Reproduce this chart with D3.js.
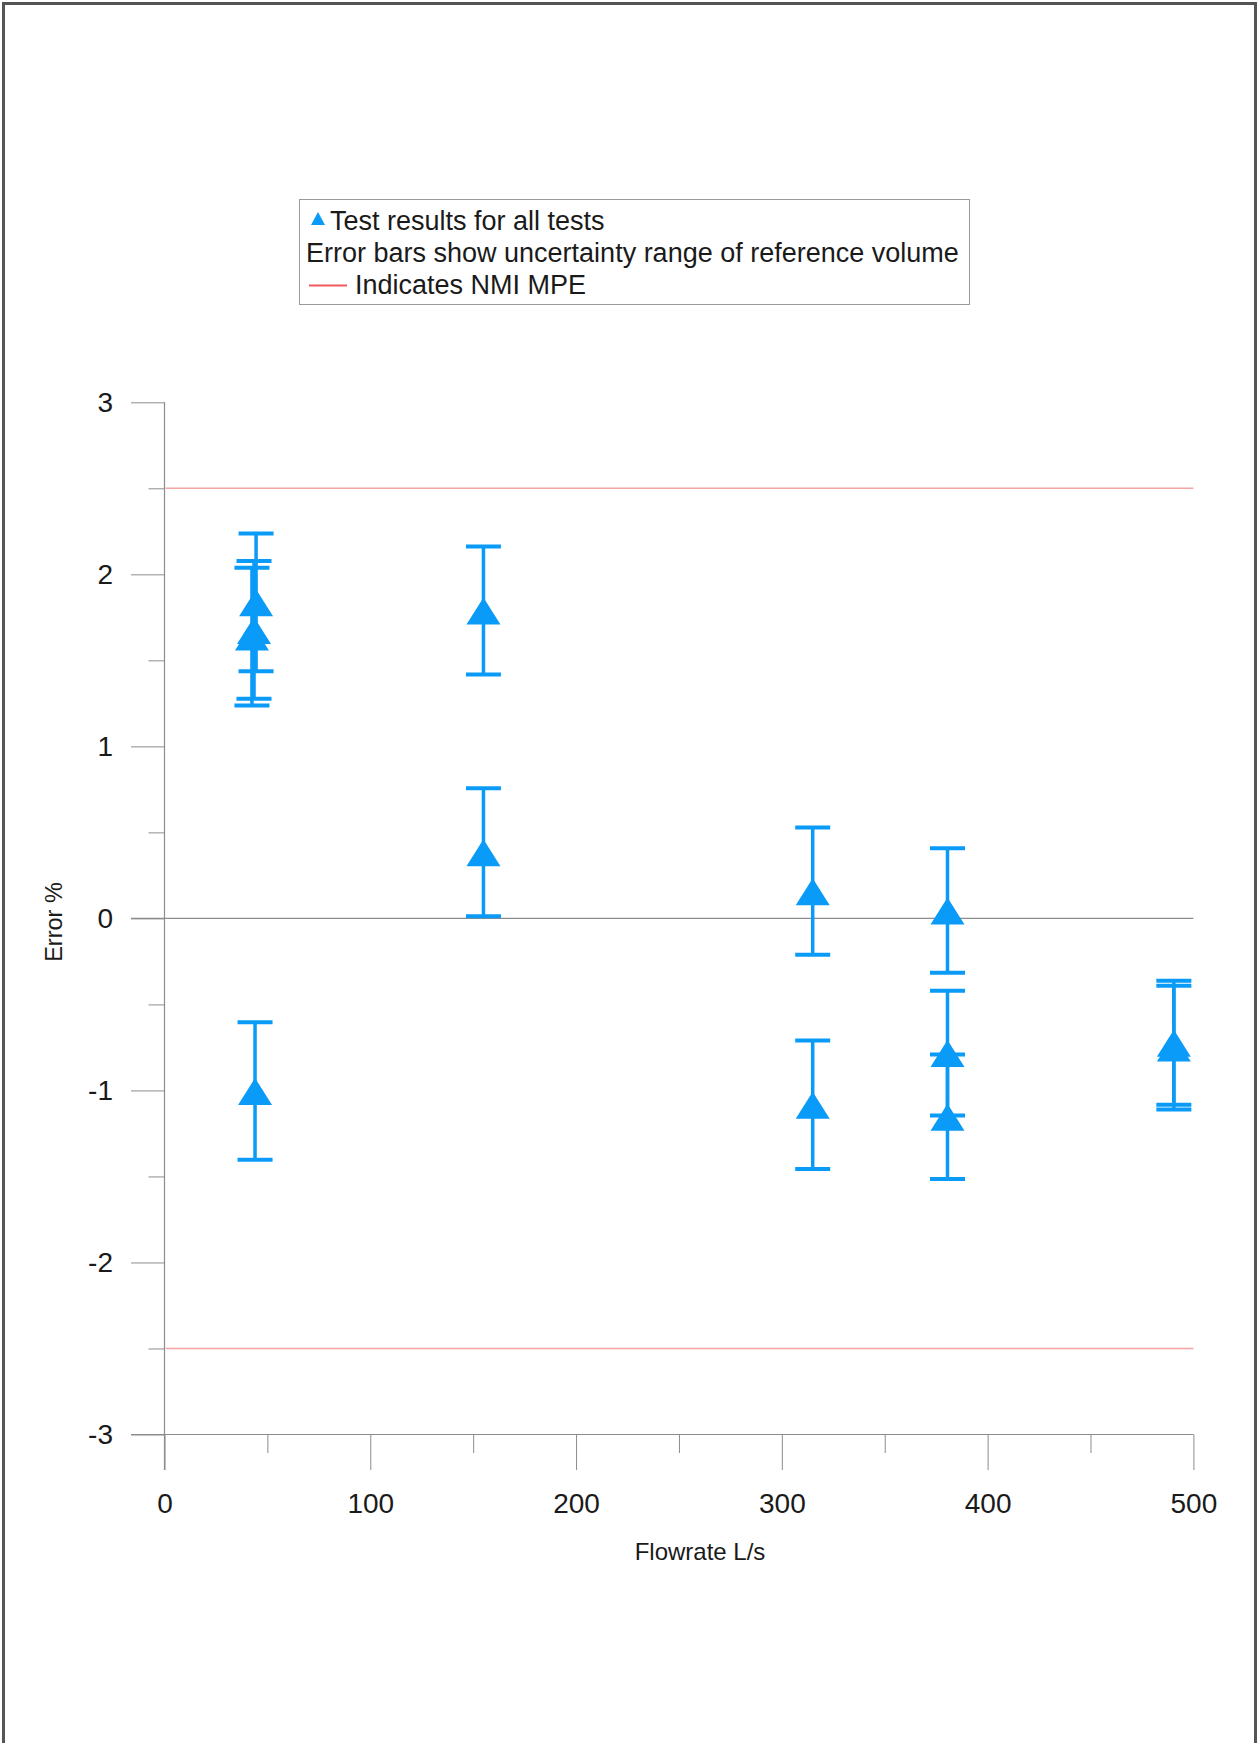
<!DOCTYPE html>
<html>
<head>
<meta charset="utf-8">
<script src="https://cdn.jsdelivr.net/npm/d3@7"></script>
<style>
  html, body { margin: 0; padding: 0; background: #fff; }
  svg { display: block; font-family: "Liberation Sans", Arial, sans-serif; }
</style>
</head>
<body>
<svg id="chart" width="1259" height="1743"></svg>
<script>
// ---------- data ----------
const flowrate    = [44.5, 43.5, 42.5, 44, 155, 155, 315, 315, 380.5, 380.5, 380.5, 490.5, 490.5];
const errorPct    = [1.837, 1.677, 1.638, -1.003, 1.79, 0.384, 0.158, -1.083, 0.046, -0.783, -1.153, -0.723, -0.751];
const uncertainty = [0.40, 0.40, 0.40, 0.40, 0.372, 0.372, 0.37, 0.373, 0.362, 0.362, 0.362, 0.36, 0.36];
const mpeLimits   = [2.5, -2.5];
const xTicks      = [0, 100, 200, 300, 400, 500];
const xMinorTicks = [50, 150, 250, 350, 450];
const yTicks      = [-3, -2, -1, 0, 1, 2, 3];
const yMinorTicks = [-2.5, -1.5, -0.5, 0.5, 1.5, 2.5];
const legendLines = ['Test results for all tests',
                     'Error bars show uncertainty range of reference volume',
                     'Indicates NMI MPE'];

const points = flowrate.map((f, i) => ({ x: f, y: errorPct[i], u: uncertainty[i] }));

// ---------- layout ----------
const svg = d3.select('#chart');
const blue = '#0a9af7';
const axisGrey = '#8c8c8c';

const x = d3.scaleLinear().domain([0, 500]).range([164.5, 1193.4]);
const y = d3.scaleLinear().domain([-3, 3]).range([1434.5, 402.3]);

// page frame (left, top, right)
svg.append('path')
  .attr('d', 'M3.5,1743 V3.5 H1255.5 V1743')
  .attr('fill', 'none')
  .attr('stroke', '#555')
  .attr('stroke-width', 3);

// ---------- axes ----------
const majorLen = 33.5, minorLen = 16;
const plain = d => String(d);   // hyphen minus, like the original

svg.append('g')
  .attr('transform', `translate(${x(0)},0)`)
  .call(d3.axisLeft(y).tickValues(yTicks).tickSize(majorLen).tickPadding(18).tickFormat(plain));
svg.append('g')
  .attr('transform', `translate(${x(0)},0)`)
  .call(d3.axisLeft(y).tickValues(yMinorTicks).tickSize(minorLen).tickFormat(''));

svg.append('g')
  .attr('transform', `translate(0,${y(-3)})`)
  .call(d3.axisBottom(x).tickValues(xTicks).tickSize(35.5).tickPadding(23).tickFormat(plain));
svg.append('g')
  .attr('transform', `translate(0,${y(-3)})`)
  .call(d3.axisBottom(x).tickValues(xMinorTicks).tickSize(18.5).tickFormat(''));

svg.selectAll('.domain').remove();
svg.selectAll('.tick line').attr('stroke', axisGrey).attr('stroke-width', 1);
svg.selectAll('.tick text')
  .attr('font-size', 28)
  .attr('font-family', '"Liberation Sans", Arial, sans-serif')
  .attr('fill', '#1a1a1a');

// axis lines: vertical runs down through the x ticks, horizontal ones start at the y tick
svg.append('line')
  .attr('x1', x(0)).attr('x2', x(0))
  .attr('y1', y(3)).attr('y2', y(-3) + 35.5)
  .attr('stroke', axisGrey).attr('stroke-width', 1.2);
[0, -3].forEach(v => {
  svg.append('line')
    .attr('x1', x(0) - majorLen).attr('x2', x(500))
    .attr('y1', y(v)).attr('y2', y(v))
    .attr('stroke', axisGrey).attr('stroke-width', 1.2);
});

// NMI MPE limits
svg.selectAll('line.mpe')
  .data(mpeLimits)
  .join('line')
  .attr('class', 'mpe')
  .attr('x1', x(0) + 1).attr('x2', x(500))
  .attr('y1', d => y(d)).attr('y2', d => y(d))
  .attr('stroke', '#f6a3a3').attr('stroke-width', 1.5);

// axis titles
svg.append('text')
  .attr('x', 700).attr('y', 1560)
  .attr('text-anchor', 'middle')
  .attr('font-size', 24)
  .attr('fill', '#1a1a1a')
  .text('Flowrate L/s');

svg.append('text')
  .attr('transform', 'translate(62,922) rotate(-90)')
  .attr('text-anchor', 'middle')
  .attr('font-size', 23.5)
  .attr('fill', '#1a1a1a')
  .text('Error %');

// ---------- error bars + markers ----------
const capW = 35, triW = 34, triUp = 13, triDown = 14;
const g = svg.append('g').attr('class', 'series');

g.selectAll('line.stem')
  .data(points)
  .join('line')
  .attr('class', 'stem')
  .attr('x1', d => x(d.x)).attr('x2', d => x(d.x))
  .attr('y1', d => y(d.y + d.u)).attr('y2', d => y(d.y - d.u))
  .attr('stroke', blue).attr('stroke-width', 3.5);

const caps = points.flatMap(d => [{ x: d.x, y: d.y + d.u }, { x: d.x, y: d.y - d.u }]);
g.selectAll('line.cap')
  .data(caps)
  .join('line')
  .attr('class', 'cap')
  .attr('x1', d => x(d.x) - capW / 2).attr('x2', d => x(d.x) + capW / 2)
  .attr('y1', d => y(d.y)).attr('y2', d => y(d.y))
  .attr('stroke', blue).attr('stroke-width', 4);

g.selectAll('path.marker')
  .data(points)
  .join('path')
  .attr('class', 'marker')
  .attr('d', d => {
    const cx = x(d.x), cy = y(d.y);
    return `M${cx},${cy - triUp} L${cx + triW / 2},${cy + triDown} L${cx - triW / 2},${cy + triDown} Z`;
  })
  .attr('fill', blue);

// ---------- legend ----------
const legend = svg.append('g').attr('class', 'legend');
legend.append('rect')
  .attr('x', 299.5).attr('y', 199.5)
  .attr('width', 670).attr('height', 105)
  .attr('fill', '#fff')
  .attr('stroke', '#9a9a9a').attr('stroke-width', 1);

legend.append('path')
  .attr('d', 'M318,212 L325,225 L311,225 Z')
  .attr('fill', blue);
legend.append('line')
  .attr('x1', 309).attr('x2', 347)
  .attr('y1', 285.5).attr('y2', 285.5)
  .attr('stroke', '#f05a5a').attr('stroke-width', 2);

const legendX = [330, 306, 355];
const legendY = [230, 262, 294];
legend.selectAll('text')
  .data(legendLines)
  .join('text')
  .attr('x', (d, i) => legendX[i])
  .attr('y', (d, i) => legendY[i])
  .attr('font-size', 27)
  .attr('fill', '#1a1a1a')
  .text(d => d);
</script>
</body>
</html>
